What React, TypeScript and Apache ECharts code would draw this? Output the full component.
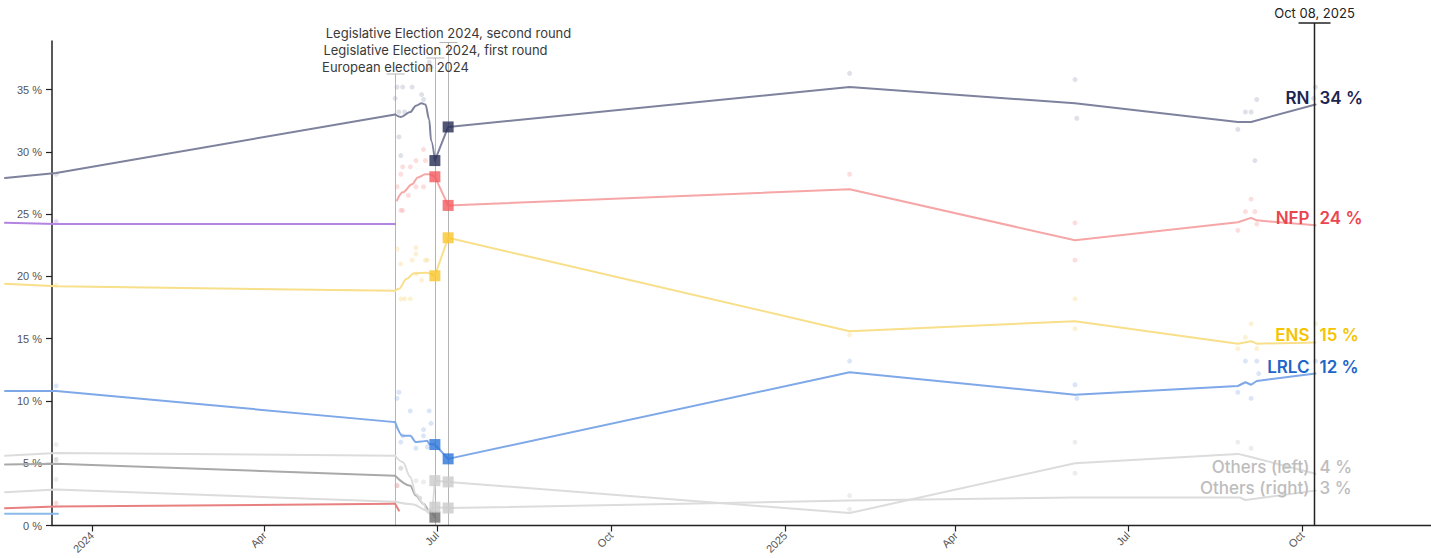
import React, { useEffect, useRef } from 'react';
import * as echarts from 'echarts';

type P = [string, number];

// ---------- axes ----------
const xMinDate = '2023-11-16';
const xAxisOriginDate = '2023-12-11';
const xMaxDate = '2025-12-08';
const xTicks = ['2024-01-01', '2024-04-01', '2024-07-01', '2024-10-01', '2025-01-01', '2025-04-01', '2025-07-01', '2025-10-01'];
const yTicks = [0, 5, 10, 15, 20, 25, 30, 35];
const yMax = 38.9;
const monthNames = ['Jan', 'Feb', 'Mar', 'Apr', 'May', 'Jun', 'Jul', 'Aug', 'Sep', 'Oct', 'Nov', 'Dec'];

// ---------- events ----------
const eventDates = ['2024-06-09', '2024-06-30', '2024-07-07'];
const eventLabels = ['European election 2024', 'Legislative Election 2024, first round', 'Legislative Election 2024, second round'];
const currentDate = '2025-10-08';
const currentLabel = 'Oct 08, 2025';
const campaignStart = '2024-06-09';
const campaignEnd = '2024-06-30';

// ---------- RN ----------
const rnLine: P[] = [
  ['2023-11-16', 27.9], ['2023-12-13', 28.3], ['2024-06-09', 33.0], ['2024-06-12', 32.8], ['2024-06-17', 33.2],
  ['2024-06-20', 33.7], ['2024-06-23', 33.9], ['2024-06-25', 33.8], ['2024-06-27', 32.6], ['2024-06-28', 30.9],
  ['2024-06-30', 29.3], ['2024-07-07', 32.0], ['2025-02-04', 35.2], ['2025-06-03', 33.9], ['2025-08-28', 32.4],
  ['2025-09-04', 32.4], ['2025-10-08', 33.8],
];
const rnResults: P[] = [['2024-06-30', 29.3], ['2024-07-07', 32.0]];
const rnPolls: P[] = [
  ['2023-12-13', 28.2], ['2024-06-10', 35.2], ['2024-06-13', 35.2], ['2024-06-18', 35.2], ['2024-06-23', 34.6],
  ['2024-06-24', 34.2], ['2024-06-09', 34.3], ['2024-06-11', 33.2], ['2024-06-14', 33.2], ['2024-06-11', 31.2],
  ['2024-06-12', 29.7], ['2024-06-26', 36.6], ['2024-06-27', 37.2], ['2024-06-28', 36.8], ['2025-02-04', 36.3],
  ['2025-06-03', 35.8], ['2025-06-04', 32.7], ['2025-08-28', 31.8], ['2025-09-01', 33.2], ['2025-09-04', 33.2],
  ['2025-09-07', 34.2], ['2025-09-06', 29.3], ['2025-10-08', 35.2], ['2025-10-07', 34.3],
];

// ---------- NFP ----------
const nfpLine: P[] = [
  ['2024-06-10', 26.1], ['2024-06-13', 26.75], ['2024-06-18', 27.4], ['2024-06-21', 27.95], ['2024-06-25', 28.2],
  ['2024-06-27', 28.2], ['2024-06-30', 28.0], ['2024-07-07', 25.7], ['2025-02-04', 27.0], ['2025-06-03', 22.9],
  ['2025-08-28', 24.35], ['2025-09-04', 24.7], ['2025-09-07', 24.5], ['2025-10-08', 24.1],
];
const nfpResults: P[] = [['2024-06-30', 28.0], ['2024-07-07', 25.7]];
const nfpPolls: P[] = [
  ['2024-06-24', 30.2], ['2024-06-20', 29.3], ['2024-06-25', 29.3], ['2024-06-13', 28.8], ['2024-06-17', 28.8],
  ['2024-06-12', 28.2], ['2024-06-20', 27.2], ['2024-06-24', 27.2], ['2024-06-10', 27.2], ['2024-06-16', 26.5],
  ['2024-06-12', 25.3], ['2024-06-13', 25.3], ['2025-02-04', 28.2], ['2025-06-03', 24.3], ['2025-06-03', 21.3],
  ['2025-09-04', 26.2], ['2025-09-01', 25.2], ['2025-09-06', 25.2], ['2025-09-07', 24.2], ['2025-08-28', 23.7],
];

// ---------- ENS ----------
const ensLine: P[] = [
  ['2023-11-16', 19.4], ['2023-12-13', 19.2], ['2024-06-09', 18.85], ['2024-06-11', 19.0], ['2024-06-15', 19.8],
  ['2024-06-19', 20.25], ['2024-06-26', 20.3], ['2024-06-28', 20.2], ['2024-06-30', 20.05], ['2024-07-07', 23.1],
  ['2025-02-04', 15.6], ['2025-06-03', 16.4], ['2025-08-28', 14.6], ['2025-09-04', 14.8], ['2025-09-07', 14.6],
  ['2025-10-08', 14.7],
];
const ensResults: P[] = [['2024-06-30', 20.05], ['2024-07-07', 23.1]];
const ensPolls: P[] = [
  ['2023-12-13', 19.3], ['2024-06-10', 22.2], ['2024-06-20', 22.3], ['2024-06-20', 21.8], ['2024-06-18', 21.3],
  ['2024-06-12', 21.0], ['2024-06-25', 21.3], ['2024-06-26', 21.3], ['2024-06-23', 19.7], ['2024-06-20', 20.2],
  ['2024-06-12', 18.2], ['2024-06-14', 18.2], ['2024-06-17', 18.2], ['2025-02-04', 15.3], ['2025-06-03', 18.2],
  ['2025-06-03', 15.8], ['2025-09-04', 16.2], ['2025-09-01', 15.1], ['2025-08-28', 14.2], ['2025-09-07', 14.2],
  ['2025-10-08', 16.2],
];

// ---------- LRLC ----------
const lrlcLine: P[] = [
  ['2023-11-16', 10.8], ['2023-12-13', 10.8], ['2024-06-09', 8.3], ['2024-06-13', 7.2], ['2024-06-17', 7.2],
  ['2024-06-20', 6.7], ['2024-06-23', 6.75], ['2024-06-26', 6.8], ['2024-06-27', 6.55], ['2024-06-30', 6.5],
  ['2024-07-07', 5.35], ['2025-02-04', 12.3], ['2025-06-03', 10.5], ['2025-08-28', 11.2], ['2025-09-01', 11.5],
  ['2025-09-04', 11.3], ['2025-09-07', 11.6], ['2025-10-08', 12.2],
];
const lrlcResults: P[] = [['2024-06-30', 6.5], ['2024-07-07', 5.35]];
const lrlcPolls: P[] = [
  ['2023-12-13', 11.2], ['2024-06-11', 10.7], ['2024-06-10', 10.2], ['2024-06-17', 9.2], ['2024-06-27', 9.2],
  ['2024-06-28', 8.2], ['2024-06-24', 7.7], ['2024-06-13', 7.2], ['2024-06-24', 7.2], ['2024-06-12', 6.7],
  ['2024-06-20', 6.2], ['2024-06-26', 6.3], ['2025-02-04', 13.2], ['2025-06-03', 11.3], ['2025-06-04', 10.2],
  ['2025-09-01', 13.2], ['2025-09-07', 13.2], ['2025-09-08', 12.2], ['2025-08-28', 10.7], ['2025-09-04', 10.2],
  ['2025-10-08', 13.2],
];

// ---------- Others (left) ----------
const othersLeftLine: P[] = [
  ['2023-11-16', 5.6], ['2023-12-13', 5.83], ['2024-06-09', 5.6], ['2024-06-13', 5.1], ['2024-06-17', 3.9],
  ['2024-06-20', 2.5], ['2024-06-24', 1.74], ['2024-06-26', 1.07], ['2024-06-28', 0.94], ['2024-06-30', 3.6],
  ['2024-07-07', 3.5], ['2025-02-04', 1.0], ['2025-06-03', 5.0], ['2025-08-28', 5.75], ['2025-09-04', 5.5],
  ['2025-10-08', 4.15],
];
const othersLeftResults: P[] = [['2024-06-30', 3.6], ['2024-07-07', 3.5]];
const othersLeftPolls: P[] = [
  ['2023-12-13', 6.5], ['2024-06-20', 3.6], ['2024-06-24', 3.5], ['2025-02-04', 1.3], ['2025-06-03', 6.7],
  ['2025-08-28', 6.7], ['2025-09-04', 6.2],
];

// ---------- Others (right) ----------
const othersRightLine: P[] = [
  ['2023-11-16', 2.67], ['2023-12-13', 2.89], ['2024-06-09', 1.9], ['2024-06-18', 1.7], ['2024-06-26', 1.2],
  ['2024-06-30', 1.47], ['2024-07-07', 1.4], ['2025-02-04', 2.0], ['2025-06-03', 2.25], ['2025-08-29', 2.25],
  ['2025-09-01', 2.05], ['2025-10-08', 2.8],
];
const othersRightResults: P[] = [['2024-06-30', 1.47], ['2024-07-07', 1.4]];
const othersRightPolls: P[] = [
  ['2023-12-13', 3.7], ['2024-06-10', 3.2], ['2025-06-03', 4.2], ['2025-02-04', 2.4],
];

// ---------- REC ----------
const recLine: P[] = [
  ['2023-11-16', 4.9], ['2023-12-13', 4.95], ['2024-06-09', 4.0], ['2024-06-17', 3.2], ['2024-06-20', 2.4],
  ['2024-06-24', 1.74], ['2024-06-27', 1.2], ['2024-06-30', 0.67],
];
const recResults: P[] = [['2024-06-30', 0.67]];
const recPolls: P[] = [['2023-12-13', 5.3], ['2024-06-12', 4.6], ['2024-06-22', 2.2]];

// ---------- small pre-election lines ----------
const purpleLine: P[] = [['2023-11-16', 24.3], ['2023-12-13', 24.2], ['2024-06-09', 24.2]];
const purplePolls: P[] = [['2023-12-13', 24.4]];
const redLine: P[] = [['2023-11-16', 1.39], ['2023-12-13', 1.52], ['2024-06-09', 1.74], ['2024-06-11', 1.2]];
const redPolls: P[] = [['2023-12-13', 1.8], ['2024-06-10', 3.2]];
const blueSmallLine: P[] = [['2023-11-16', 0.94], ['2023-12-14', 0.94]];

const t = (s: string) => Date.UTC(+s.slice(0, 4), +s.slice(5, 7) - 1, +s.slice(8, 10));
const conv = (arr: P[]) => arr.map(([d, v]) => [t(d), v]);

const groups = [
  { key: 'REC', line: recLine, polls: recPolls, results: recResults, lineColor: '#a9a9a9', pollColor: '#9a9a9a', resColor: '#6f6f6f' },
  { key: 'OR', line: othersRightLine, polls: othersRightPolls, results: othersRightResults, lineColor: '#dcdcdc', pollColor: '#c8c8c8', resColor: '#cacaca' },
  { key: 'OL', line: othersLeftLine, polls: othersLeftPolls, results: othersLeftResults, lineColor: '#dcdcdc', pollColor: '#c8c8c8', resColor: '#cacaca' },
  { key: 'PUR', line: purpleLine, polls: purplePolls, results: [] as P[], lineColor: '#b384e0', pollColor: '#b384e0', resColor: '#b384e0' },
  { key: 'RED', line: redLine, polls: redPolls, results: [] as P[], lineColor: '#e88080', pollColor: '#f09090', resColor: '#e88080' },
  { key: 'BS', line: blueSmallLine, polls: [] as P[], results: [] as P[], lineColor: '#8bbbe9', pollColor: '#8bbbe9', resColor: '#8bbbe9' },
  { key: 'LRLC', line: lrlcLine, polls: lrlcPolls, results: lrlcResults, lineColor: '#7ea8e8', pollColor: '#8fb3ea', resColor: '#2c74d8' },
  { key: 'ENS', line: ensLine, polls: ensPolls, results: ensResults, lineColor: '#f8df8a', pollColor: '#f5d878', resColor: '#f9c62c' },
  { key: 'NFP', line: nfpLine, polls: nfpPolls, results: nfpResults, lineColor: '#f6a6a6', pollColor: '#f59a9a', resColor: '#f25a5e' },
  { key: 'RN', line: rnLine, polls: rnPolls, results: rnResults, lineColor: '#7e829d', pollColor: '#9da1b8', resColor: '#252c55' },
];

const labelled = [
  { name: 'RN', line: rnLine, color: '#1c2452', weight: 600 },
  { name: 'NFP', line: nfpLine, color: '#ea4550', weight: 600 },
  { name: 'ENS', line: ensLine, color: '#f5c300', weight: 600 },
  { name: 'LRLC', line: lrlcLine, color: '#1d66c9', weight: 600 },
  { name: 'Others (left)', line: othersLeftLine, color: '#bdbdbd', weight: 500 },
  { name: 'Others (right)', line: othersRightLine, color: '#bdbdbd', weight: 500 },
];

export default function App() {
  const ref = useRef<HTMLDivElement>(null);
  useEffect(() => {
    if (!ref.current) return;
    const chart = echarts.init(ref.current, undefined, { renderer: 'svg' });
    const series: any[] = [];
    const cs = t(campaignStart);
    const ce = t(campaignEnd);
    groups.forEach((g) => {
      if (g.polls.length)
        series.push({
          type: 'scatter', data: conv(g.polls), symbolSize: 5, clip: false, z: 1,
          itemStyle: { color: g.pollColor, opacity: 0.33 }, silent: true,
        });
    });
    groups.forEach((g, i) => {
      const pts = conv(g.line);
      const before = pts.filter((p) => p[0] <= cs);
      const during = pts.filter((p) => p[0] >= cs && p[0] <= ce);
      const after = pts.filter((p) => p[0] >= ce);
      const parts: [number[][], number][] = [[before, 0], [during, 0.35], [after, 0]];
      parts.forEach(([d, sm]) => {
        if (d.length < 2) return;
        series.push({
          type: 'line', data: d, showSymbol: false, symbol: 'none', smooth: sm || false,
          smoothMonotone: 'x', clip: false, z: 2 + i * 0.01,
          lineStyle: { color: g.lineColor, width: 2, cap: 'round', join: 'round' }, silent: true,
        });
      });
    });
    groups.forEach((g) => {
      if (g.results.length)
        series.push({
          type: 'scatter', data: conv(g.results), symbol: 'rect', symbolSize: 11, clip: false, z: 5,
          itemStyle: { color: g.resColor }, silent: true,
        });
    });

    const axisFont = { fontFamily: 'Liberation Sans, Arial, sans-serif', fontSize: 11, color: '#555' };
    chart.setOption({
      animation: false,
      grid: { left: 5, right: 0, top: 41, bottom: 32.5 },
      xAxis: {
        type: 'value', min: t(xMinDate), max: t(xMaxDate),
        splitLine: { show: false },
        axisLine: { show: false },
        axisTick: { show: true, length: 6, lineStyle: { color: '#222', width: 1.2 }, customValues: xTicks.map(t) },
        axisLabel: {
          ...axisFont, rotate: 45, margin: 8, customValues: xTicks.map(t),
          formatter: (v: number) => {
            const d = new Date(v);
            const m = d.getUTCMonth();
            return m === 0 ? String(d.getUTCFullYear()) : monthNames[m];
          },
        },
      },
      yAxis: {
        type: 'value', min: 0, max: yMax, position: 'left', offset: -47,
        splitLine: { show: false },
        axisLine: { show: true, lineStyle: { color: '#222', width: 1.5 } },
        axisTick: { show: true, length: 6, lineStyle: { color: '#222', width: 1.2 }, customValues: yTicks },
        axisLabel: { ...axisFont, margin: 10, customValues: yTicks, formatter: (v: number) => `${v} %` },
      },
      series,
    });

    const px = (d: string, v: number) => chart.convertToPixel({ gridIndex: 0 }, [t(d), v]) as number[];
    const graphic: any[] = [];
    const bottomY = px(currentDate, 0)[1];
    const originX = px(xAxisOriginDate, 0)[0];
    const rightX = px(xMaxDate, 0)[0];
    graphic.push({ type: 'line', silent: true, z: 9, shape: { x1: originX - 0.75, y1: bottomY, x2: rightX, y2: bottomY }, style: { stroke: '#222', lineWidth: 1.5 } });

    const capYs = [74, 58, 42.5];
    const textYs = [67, 50, 33];
    eventDates.forEach((d, i) => {
      const x = Math.round(px(d, 0)[0]) + 0.5;
      graphic.push({ type: 'line', silent: true, z: 0, shape: { x1: x, y1: capYs[i], x2: x, y2: bottomY }, style: { stroke: '#b5b5b5', lineWidth: 1 } });
      graphic.push({ type: 'line', silent: true, z: 0, shape: { x1: x - 9, y1: capYs[i], x2: x + 9, y2: capYs[i] }, style: { stroke: '#b5b5b5', lineWidth: 1 } });
      graphic.push({
        type: 'text', silent: true, z: 10,
        style: { text: eventLabels[i], x, y: textYs[i], fill: '#3a3a3a', font: '400 13px Inter, sans-serif', align: 'center', verticalAlign: 'middle', textAlign: 'center', textVerticalAlign: 'middle' },
      });
    });
    const cx = Math.round(px(currentDate, 0)[0]) - 0.5;
    graphic.push({ type: 'line', silent: true, z: 10, shape: { x1: cx, y1: 23, x2: cx, y2: bottomY }, style: { stroke: '#222', lineWidth: 1.5 } });
    graphic.push({ type: 'line', silent: true, z: 10, shape: { x1: cx - 16, y1: 23, x2: cx + 16, y2: 23 }, style: { stroke: '#222', lineWidth: 1.5 } });
    graphic.push({
      type: 'text', silent: true, z: 10,
      style: { text: currentLabel, x: cx, y: 13, fill: '#222', font: '400 13px Inter, sans-serif', align: 'center', verticalAlign: 'middle', textAlign: 'center', textVerticalAlign: 'middle' },
    });

    const labs = labelled.map((l) => {
      const last = l.line[l.line.length - 1];
      return { ...l, value: Math.round(last[1]), y: px(last[0], last[1])[1] - 7 };
    });
    labs.sort((a, b) => a.y - b.y);
    for (let i = 1; i < labs.length; i++) {
      if (labs[i].y - labs[i - 1].y < 21) labs[i].y = labs[i - 1].y + 21;
    }
    labs.forEach((l) => {
      const font = `${l.weight} 17px Inter, sans-serif`;
      graphic.push({
        type: 'text', silent: true, z: 20,
        style: { text: l.name, x: cx - 5, y: l.y, fill: l.color, font, align: 'right', verticalAlign: 'middle', textAlign: 'right', textVerticalAlign: 'middle' },
      });
      graphic.push({
        type: 'text', silent: true, z: 20,
        style: { text: `${l.value} %`, x: cx + 5, y: l.y, fill: l.color, font, align: 'left', verticalAlign: 'middle', textAlign: 'left', textVerticalAlign: 'middle' },
      });
    });
    chart.setOption({ graphic });

    return () => chart.dispose();
  }, []);
  return <div ref={ref} style={{ position: 'absolute', left: 0, top: 0, width: 1431, height: 558 }} />;
}
